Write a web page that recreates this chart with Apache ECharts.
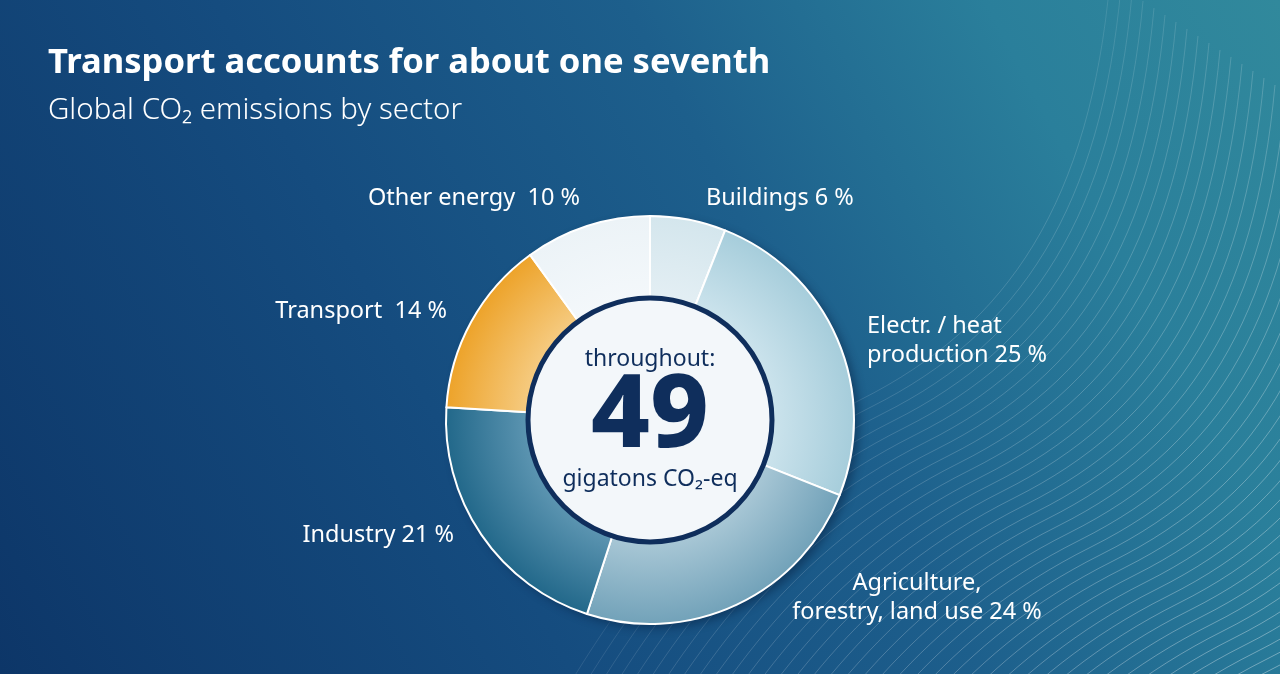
<!DOCTYPE html>
<html>
<head>
<meta charset="utf-8">
<script src="https://cdn.jsdelivr.net/npm/echarts@6/dist/echarts.min.js"></script>
<style>
html,body{margin:0;padding:0;width:1280px;height:674px;overflow:hidden;}
body{background:linear-gradient(62deg,#0d3668 0%,#154c7f 35%,#1d5f8c 60%,#2a7f9b 82%,#31899c 100%);}
#chart{width:1280px;height:674px;}
</style>
</head>
<body>
<div id="chart"></div>
<script>
// ---- data ----
const categories = ['Buildings', 'Electr. / heat production', 'Agriculture, forestry, land use', 'Industry', 'Transport', 'Other energy'];
const shares = [6, 25, 24, 21, 14, 10];
const labelTexts = ['Buildings 6 %', 'Electr. / heat\nproduction 25 %', 'Agriculture,\nforestry, land use 24 %', 'Industry 21 %', 'Transport  14 %', 'Other energy  10 %'];
const totalValue = '49';
const totalTop = 'throughout:';
const totalUnit = 'gigatons CO₂-eq';
const titleText = 'Transport accounts for about one seventh';
const subtitleText = 'Global CO₂ emissions by sector';

// ---- styles ----
const CX = 650, CY = 420, R_OUT = 204, R_IN = 118;
const colorPairs = [
  ['#e4eff4', '#d4e6ed'],
  ['#cde4ed', '#a6cddb'],
  ['#abc9d7', '#72a2b9'],
  ['#5f97b3', '#22688a'],
  ['#f6cd85', '#eda32a'],
  ['#f4f8fb', '#ecf3f7']
];
const labelPos = [
  {x: 706, y: 198, align: 'left'},
  {x: 867, y: 341, align: 'left'},
  {x: 917, y: 598, align: 'center'},
  {x: 454, y: 535, align: 'right'},
  {x: 447, y: 311, align: 'right'},
  {x: 580, y: 198, align: 'right'}
];
const FONT = '"Noto Sans", "Open Sans", sans-serif';

function grad(pair) {
  return {
    type: 'radial', x: CX, y: CY, r: R_OUT, global: true,
    colorStops: [
      {offset: 0, color: pair[0]},
      {offset: R_IN / R_OUT, color: pair[0]},
      {offset: 1, color: pair[1]}
    ]
  };
}

// decorative background curves (S-shaped family, translated copies)
const waveSegs = [
  {x1: 560, y1: 700, cpx1: 620, cpy1: 600, cpx2: 700, cpy2: 480, x2: 860, y2: 400},
  {x1: 860, y1: 400, cpx1: 1010, cpy1: 325, cpx2: 1090, cpy2: 200, x2: 1110, y2: -20}
];
const deco = [];
for (let i = 0; i < 44; i++) {
  const dx = i * 11, dy = i * 7;
  const stroke = {
    type: 'linear', x: 700 - dx, y: 220 - dy, x2: 1280 - dx, y2: 674 - dy, global: true,
    colorStops: [
      {offset: 0, color: 'rgba(255,255,255,0)'},
      {offset: 0.3, color: 'rgba(255,255,255,0.12)'},
      {offset: 1, color: 'rgba(255,255,255,0.36)'}
    ]
  };
  waveSegs.forEach(s => deco.push({
    type: 'bezierCurve', silent: true, z: -10,
    x: dx, y: dy,
    shape: Object.assign({}, s),
    style: {stroke: stroke, lineWidth: 1, fill: null}
  }));
}

const chart = echarts.init(document.getElementById('chart'), null, {renderer: 'canvas'});
chart.setOption({
  backgroundColor: 'transparent',
  title: [
    {text: titleText, left: 43, top: 41,
     textStyle: {color: '#ffffff', fontFamily: FONT, fontWeight: 'bold', fontSize: 34.6}},
    {text: subtitleText, left: 43, top: 91,
     textStyle: {color: '#ffffff', fontFamily: FONT, fontWeight: 300, fontSize: 29.5}}
  ],
  graphic: deco.concat([
    {type: 'circle', z: 100, shape: {cx: CX, cy: CY, r: 122},
     style: {fill: '#f3f7fa', stroke: '#0f2e5c', lineWidth: 5}},
    {type: 'text', z: 101, x: CX, y: 359,
     style: {text: totalTop, fill: '#0f2e5c', font: '400 23px ' + FONT, textAlign: 'center', textVerticalAlign: 'middle'}},
    {type: 'text', z: 101, x: CX, y: 418,
     style: {text: totalValue, fill: '#0f2e5c', font: '800 102px ' + FONT, textAlign: 'center', textVerticalAlign: 'middle'}},
    {type: 'text', z: 101, x: CX, y: 479,
     style: {text: totalUnit, fill: '#0f2e5c', font: '400 23px ' + FONT, textAlign: 'center', textVerticalAlign: 'middle'}}
  ]),
  series: [
    {
      type: 'pie', silent: true, z: 1,
      center: [CX, CY], radius: [R_IN, R_OUT],
      label: {show: false}, labelLine: {show: false},
      itemStyle: {color: '#1d5c88', shadowBlur: 10, shadowOffsetX: 5, shadowOffsetY: 4, shadowColor: 'rgba(5,25,55,0.45)'},
      data: [{value: 1, name: ''}]
    },
    {
      type: 'pie', z: 2,
      center: [CX, CY], radius: [R_IN, R_OUT],
      startAngle: 90, clockwise: true,
      avoidLabelOverlap: false,
      itemStyle: {borderColor: '#ffffff', borderWidth: 2},
      label: {
        show: true, position: 'outside', color: '#ffffff',
        fontFamily: FONT, fontSize: 23.5, lineHeight: 29,
        formatter: p => labelTexts[p.dataIndex]
      },
      labelLine: {show: false},
      labelLayout: p => ({
        x: labelPos[p.dataIndex].x, y: labelPos[p.dataIndex].y,
        align: labelPos[p.dataIndex].align, verticalAlign: 'middle'
      }),
      emphasis: {disabled: true},
      data: categories.map((c, i) => ({name: c, value: shares[i], itemStyle: {color: grad(colorPairs[i])}}))
    }
  ]
});
</script>
</body>
</html>
